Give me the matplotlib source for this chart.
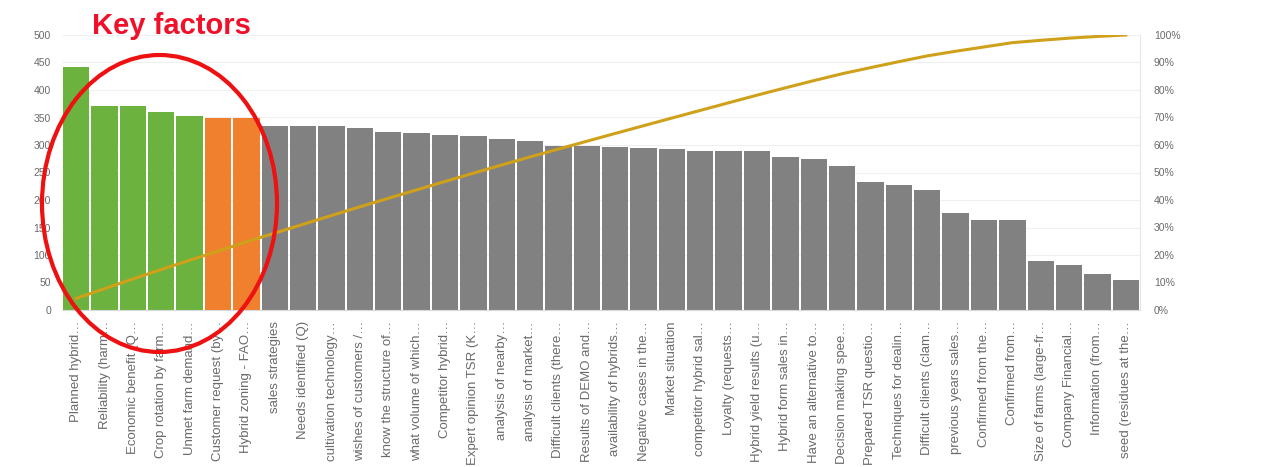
import numpy as np
import matplotlib
matplotlib.use("Agg")
import matplotlib.pyplot as plt
from matplotlib.patches import Ellipse

categories = [
    "Planned hybrid…", "Reliability (harm…", "Economic benefit (Q…", "Crop rotation by farm…",
    "Unmet farm demand…", "Customer request (by…", "Hybrid zoning - FAO…", "sales strategies",
    "Needs identified (Q)", "cultivation technology…", "wishes of customers /…", "know the structure of…",
    "what volume of which…", "Competitor hybrid…", "Expert opinion TSR (K…", "analysis of nearby…",
    "analysis of market…", "Difficult clients (there…", "Results of DEMO and…", "availability of hybrids…",
    "Negative cases in the…", "Market situation", "competitor hybrid sal…", "Loyalty (requests…",
    "Hybrid yield results (u…", "Hybrid form sales in…", "Have an alternative to…", "Decision making spee…",
    "Prepared TSR questio…", "Techniques for dealin…", "Difficult clients (clam…", "previous years sales…",
    "Confirmed from the…", "Confirmed from…", "Size of farms (large-fr…", "Company Financial…",
    "Information (from…", "seed (residues at the…",
]
values = [441, 370, 370, 360, 352, 349, 349, 335, 335, 334, 330, 324, 321, 319, 317, 311, 307, 299,
          298, 296, 294, 293, 290, 290, 290, 279, 274, 262, 232, 228, 219, 177, 163, 163, 90, 82, 65, 55]
left_ticks = [0, 50, 100, 150, 200, 250, 300, 350, 400, 450, 500]
right_ticks = [0, 10, 20, 30, 40, 50, 60, 70, 80, 90, 100]
title = "Key factors"

N_GREEN, N_ORANGE = 5, 2
GREEN, ORANGE, GRAY = "#6CB23E", "#F07F2E", "#818181"
LINE = "#CFA01A"
TXT = "#6a6a6a"

W, H = 1262, 467
fig = plt.figure(figsize=(W / 100, H / 100), dpi=100)
ax = fig.add_axes([62 / W, 1 - 310 / H, 1078 / W, 275 / H])

x = np.arange(len(values))
colors = [GREEN if i < N_GREEN else ORANGE if i < N_GREEN + N_ORANGE else GRAY for i in range(len(values))]
ax.bar(x, values, width=0.93, color=colors, zorder=2)
ax.set_xlim(-0.5, len(values) - 0.5)
ax.set_ylim(0, 500)
ax.set_yticks(left_ticks)
ax.set_yticklabels([str(t) for t in left_ticks], fontsize=7.5, color=TXT, family="Liberation Sans")
ax.grid(axis="y", color="#f0f0f0", linewidth=0.8, zorder=0)
for s in ["top", "left", "right"]:
    ax.spines[s].set_visible(False)
ax.spines["bottom"].set_color("#d9d9d9")
ax.tick_params(axis="both", length=0, pad=8)
ax.set_xticks(x)
ax.set_xticklabels(categories, rotation=90, fontsize=9.5, color=TXT, family="Liberation Sans",
                   va="top", ha="center")
ax.tick_params(axis="x", pad=8)

ax2 = ax.twinx()
cum = np.cumsum(values) / np.sum(values) * 100
ax2.plot(x, cum, color=LINE, linewidth=2.2, zorder=3)
ax2.set_ylim(0, 100)
ax2.set_yticks(right_ticks)
ax2.set_yticklabels([f"{t}%" for t in right_ticks], fontsize=7.5, color=TXT, family="Liberation Sans")
ax2.tick_params(axis="y", length=0, pad=10)
for s in ["top", "left", "bottom"]:
    ax2.spines[s].set_visible(False)
ax2.spines["right"].set_color("#e6e6e6")

fig.text(92 / W, 1 - 34 / H, title, color="#F0102A", fontsize=21, fontweight="bold",
         family="Liberation Sans", ha="left", va="baseline")

ell = Ellipse((159.5 / 100, (H - 203.5) / 100), 2.35, 2.97, transform=fig.dpi_scale_trans,
              fill=False, edgecolor="#EE1111", linewidth=3.0, clip_on=False, zorder=10)
fig.add_artist(ell)

fig.savefig("out.png", dpi=100, facecolor="white")
